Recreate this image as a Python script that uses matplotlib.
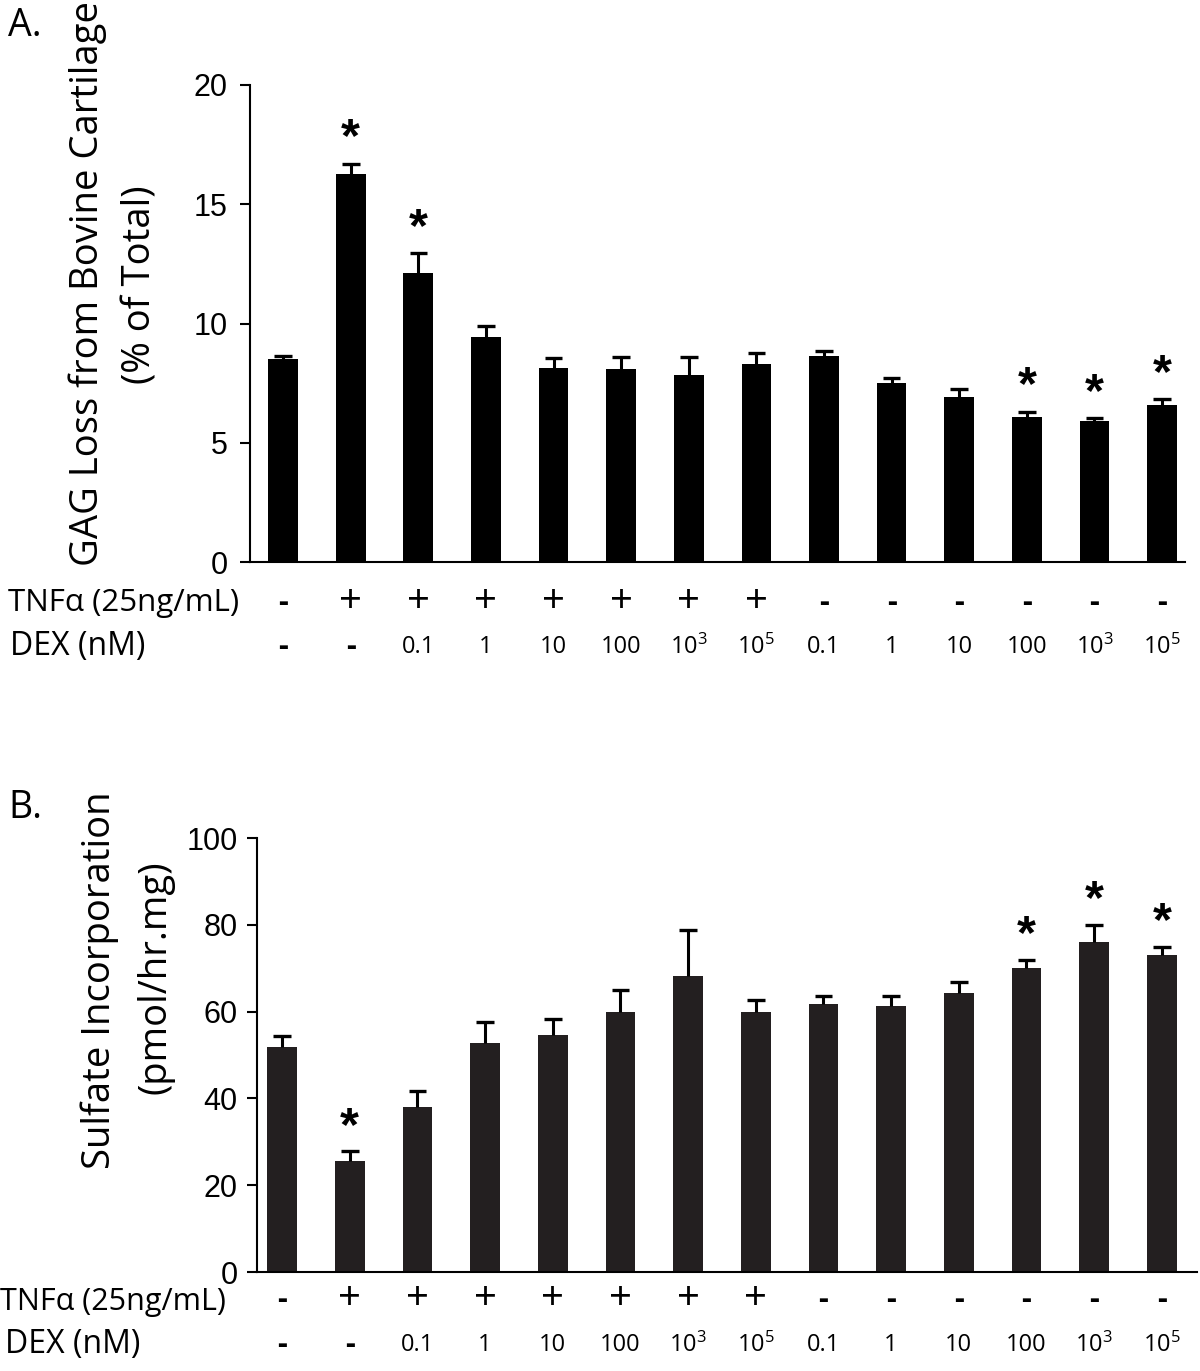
import matplotlib.pyplot as plt
import numpy as np

plt.rcParams['font.family'] = ['Open Sans', 'DejaVu Sans']
plt.rcParams['mathtext.fontset'] = 'custom'
plt.rcParams['mathtext.rm'] = 'Open Sans'

# conditions
tnf = ['-', '+', '+', '+', '+', '+', '+', '+', '-', '-', '-', '-', '-', '-']
dex = ['-', '-', '0.1', '1', '10', '100', '$\\mathregular{10^3}$', '$\\mathregular{10^5}$',
       '0.1', '1', '10', '100', '$\\mathregular{10^3}$', '$\\mathregular{10^5}$']

# panel A: GAG loss (% of total)
gag = [8.5, 16.25, 12.1, 9.45, 8.15, 8.1, 7.85, 8.3, 8.65, 7.5, 6.9, 6.08, 5.9, 6.58]
gag_err = [0.15, 0.45, 0.85, 0.45, 0.4, 0.5, 0.75, 0.45, 0.2, 0.2, 0.35, 0.22, 0.12, 0.25]
gag_sig = [0, 1, 1, 0, 0, 0, 0, 0, 0, 0, 0, 1, 1, 1]

# panel B: sulfate incorporation (pmol/hr.mg)
sulf = [51.8, 25.5, 38.0, 52.8, 54.6, 59.9, 68.2, 59.9, 61.8, 61.3, 64.3, 70.0, 76.0, 73.0]
sulf_err = [2.5, 2.3, 3.7, 4.8, 3.7, 5.0, 10.6, 2.8, 1.8, 2.3, 2.5, 2.0, 4.0, 2.0]
sulf_sig = [0, 1, 0, 0, 0, 0, 0, 0, 0, 0, 0, 1, 1, 1]

W, H = 1200, 1371
fig = plt.figure(figsize=(W / 100, H / 100), dpi=100)
x = np.arange(len(tnf))


def panel(rect, vals, errs, sig, color, ymax, step, star_off, xlim, pad):
    ax = fig.add_axes([rect[0] / W, 1 - rect[3] / H, (rect[2] - rect[0]) / W, (rect[3] - rect[1]) / H])
    vals = np.array(vals)
    errs = np.array(errs)
    ax.bar(x, vals, width=0.44, color=color)
    # upper error bars only
    ax.vlines(x, vals, vals + errs, color='black', linewidth=2.2)
    ax.hlines(vals + errs, x - 0.13, x + 0.13, color='black', linewidth=2.4)
    for i in range(len(vals)):
        if sig[i]:
            ax.text(x[i], vals[i] + errs[i] + star_off, '*', ha='center', va='center',
                    fontsize=35, fontweight='bold', family='Liberation Sans')
    ax.set_ylim(0, ymax)
    ax.set_xlim(*xlim)
    ax.set_yticks(np.arange(0, ymax + 1, step))
    ax.set_xticks([])
    for s in ['top', 'right']:
        ax.spines[s].set_visible(False)
    for s in ['left', 'bottom']:
        ax.spines[s].set_linewidth(1.5)
    ax.tick_params(axis='y', length=7, width=1.5, labelsize=22, pad=pad)
    for t in ax.get_yticklabels():
        t.set_family('Liberation Sans')
    return ax


axA = panel((250, 85, 1185, 562), gag, gag_err, gag_sig, 'black', 20, 5, 1.05, (-0.49, 13.34), 9)
axB = panel((257, 838, 1197, 1272), sulf, sulf_err, sulf_sig, '#231f20', 100, 20, 5.6, (-0.37, 13.52), 7)

# condition rows under each panel
for ax, y1, y2 in [(axA, 603, 647), (axB, 1300, 1345)]:
    trans = ax.get_xaxis_transform()
    ax_bottom = ax.get_position().y0
    ax_h = ax.get_position().height
    ya = ((1 - y1 / H) - ax_bottom) / ax_h
    yb = ((1 - y2 / H) - ax_bottom) / ax_h
    for i in range(len(tnf)):
        ax.text(x[i], ya, tnf[i], ha='center', va='center', fontsize=29 if tnf[i] == '+' else 22,
                fontweight='bold' if tnf[i] == '-' else 'normal', transform=trans, clip_on=False)
        ax.text(x[i], yb, dex[i], ha='center', va='center',
                fontsize=22 if dex[i] == '-' else 17,
                fontweight='bold' if dex[i] == '-' else 'normal', transform=trans, clip_on=False)

fig.text(8 / W, 1 - 603 / H, 'TNF\u03b1 (25ng/mL)', ha='left', va='center', fontsize=22.5)
fig.text(10 / W, 1 - 647 / H, 'DEX (nM)', ha='left', va='center', fontsize=23)
fig.text(0 / W, 1 - 1302 / H, 'TNF\u03b1 (25ng/mL)', ha='left', va='center', fontsize=22)
fig.text(5 / W, 1 - 1345 / H, 'DEX (nM)', ha='left', va='center', fontsize=23)

fig.text(8 / W, 1 - 26 / H, 'A.', ha='left', va='center', fontsize=27)
fig.text(8 / W, 1 - 808 / H, 'B.', ha='left', va='center', fontsize=27)

fig.text(88 / W, 1 - 283 / H, 'GAG Loss from Bovine Cartilage', rotation=90,
         ha='center', va='center', fontsize=27.5)
fig.text(140 / W, 1 - 285 / H, '(% of Total)', rotation=90,
         ha='center', va='center', fontsize=27.5)
fig.text(100 / W, 1 - 980 / H, 'Sulfate Incorporation', rotation=90,
         ha='center', va='center', fontsize=27.5)
fig.text(155 / W, 1 - 977 / H, '(pmol/hr.mg)', rotation=90,
         ha='center', va='center', fontsize=27.5)

fig.savefig('out.png', dpi=100)
